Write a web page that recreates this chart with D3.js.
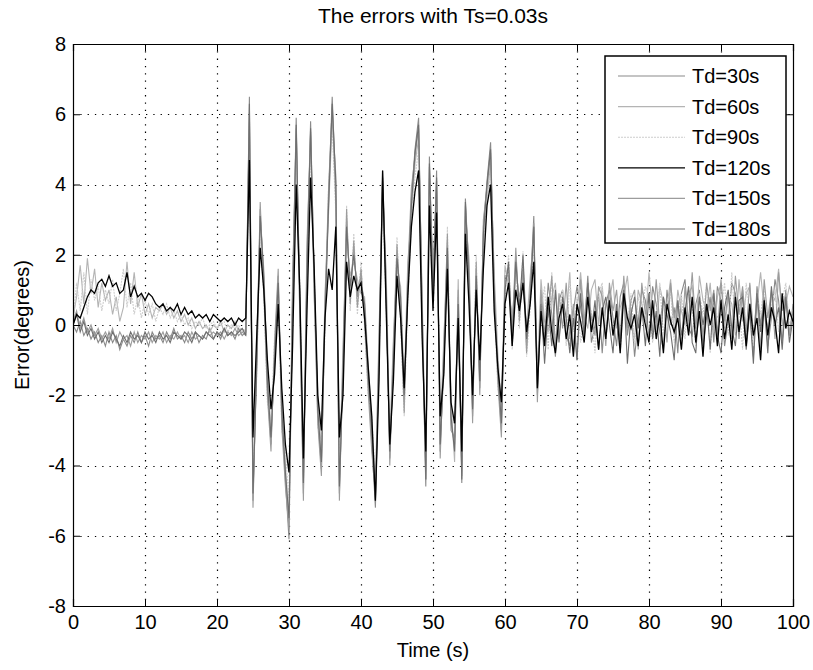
<!DOCTYPE html>
<html>
<head>
<meta charset="utf-8">
<script src="https://d3js.org/d3.v7.min.js"></script>
<style>
  html, body { margin: 0; padding: 0; background: #fff; }
  svg text { font-family: "Liberation Sans", Arial, Helvetica, sans-serif; fill: #000; }
</style>
</head>
<body>
<svg id="chart" width="813" height="670"></svg>
<script>
// Tracking error (degrees) sampled every 0.5 s from 0 to 100 s, one array per delay Td.
const sampleStep = 0.5;
const seriesNames = ["Td=30s", "Td=60s", "Td=90s", "Td=120s", "Td=150s", "Td=180s"];

const errTd30 = [
  0.0, -0.2, 0.1, -0.3, -0.1, -0.4, -0.2, -0.5, -0.3, -0.6,
  -0.2, -0.5, -0.3, -0.7, -0.4, -0.6, -0.3, -0.5, -0.2, -0.5,
  -0.3, -0.6, -0.2, -0.4, -0.3, -0.5, -0.2, -0.4, -0.1, -0.4,
  -0.3, -0.5, -0.2, -0.4, -0.2, -0.5, -0.3, -0.4, -0.1, -0.4,
  -0.2, -0.4, -0.1, -0.3, -0.2, -0.4, -0.1, -0.3, -0.2, 6.5,
  -5.0, -1.2, 3.3, 1.2, -1.8, -3.4, -0.8, 1.4, -2.6, -4.4,
  -6.1, 0.8, 5.9, 0.6, -4.8, 1.8, 5.8, 1.2, -2.6, -4.1,
  0.4, 3.6, 6.5, 3.9, -4.8, -1.2, 3.0, 0.9, 2.2, 0.8,
  1.4, 0.4, -1.6, -3.3, -5.2, -0.8, 4.4, 0.9, -3.8, -0.9,
  2.1, 0.6, -2.2, 1.2, 3.6, 5.0, 5.9, 0.2, -4.6, 4.8,
  1.0, 4.4, -3.6, -1.0, 2.4, -2.8, -3.4, 0.8, -4.5, 3.6,
  1.4, -2.6, 1.6, -1.8, 2.8, 4.1, 5.2, 1.0, -1.4, -3.0,
  1.2, 1.6, -0.4, 2.0, 0.3, 1.8, -0.6, 0.9, 3.1, -2.0,
  0.8, -0.4, 1.2, 0.3, -0.9, 0.7, 1.0, -0.3, -0.6, 0.4,
  1.1, 0.5, -0.2, 1.4, -0.5, 0.0, 0.9, -0.8, 0.6, 1.0,
  0.2, -0.6, 0.8, 1.2, -0.3, 0.5, -0.9, 0.1, 1.0, 0.7,
  -0.4, 1.1, 0.6, -0.2, -0.7, 1.0, 0.0, 0.5, -0.8, 0.9,
  1.3, -0.1, -0.3, 0.6, 1.0, -0.6, 0.2, 0.8, -0.5, 1.1,
  0.7, -0.6, 0.1, 1.2, 0.9, -0.4, 1.0, -0.5, 0.6, -0.9,
  1.1, 0.0, 0.8, -0.6, 0.2, 1.3, 0.7, -0.5, 1.0, -0.3,
  0.4
];

const errTd60 = [
  0.2, 0.8, 1.7, 0.6, 1.9, 0.9, 1.6, 0.5, 1.2, 0.7,
  1.0, 0.3, 0.8, 0.1, 0.5, 1.8, 0.6, 1.5, 0.5, 0.9,
  0.3, 0.6, 0.2, 0.5, 0.4, 0.6, 0.3, 0.5, 0.2, 0.4,
  0.1, 0.3, 0.0, 0.2, -0.1, 0.1, -0.1, 0.0, -0.2, 0.0,
  -0.1, 0.1, -0.2, 0.0, -0.1, 0.1, -0.2, -0.1, -0.2, 5.8,
  -4.6, -0.8, 3.0, 1.6, -1.4, -3.0, -1.2, 1.0, -2.2, -4.0,
  -5.6, 1.4, 5.2, 0.2, -4.2, 2.4, 5.4, 0.8, -2.0, -3.6,
  0.9, 3.2, 5.9, 4.3, -4.3, -0.6, 2.6, 1.4, 1.8, 1.3,
  0.9, 0.8, -1.1, -2.8, -4.6, -0.2, 3.8, 1.5, -3.2, -0.4,
  1.6, 1.1, -1.7, 1.8, 3.1, 4.6, 5.3, 0.8, -4.0, 4.2,
  1.6, 3.8, -3.0, -0.4, 2.0, -2.2, -3.9, 1.3, -3.9, 3.1,
  1.9, -2.0, 1.1, -1.2, 2.3, 3.6, 4.6, 1.5, -0.8, -2.4,
  1.7, 1.1, 0.2, 1.5, 0.8, 1.3, -0.1, 1.4, 2.5, -1.4,
  1.3, 0.1, -0.2, 0.8, 1.2, -0.4, 0.6, 0.2, 1.5, -0.7,
  0.4, 1.5, 0.3, -0.1, 1.0, 1.3, 0.0, 1.1, -0.3, 0.7,
  1.3, -0.1, 0.5, 0.8, 1.4, 0.2, -0.4, 1.0, 0.6, 0.1,
  1.5, 0.3, -0.2, 1.1, 0.6, 0.5, 1.3, -0.3, 1.0, 0.4,
  0.0, 0.9, 1.1, -0.1, 1.4, 0.7, 0.4, 1.2, -0.2, 0.8,
  1.2, -0.1, 0.8, 0.6, -0.3, 1.3, 0.1, 0.9, 1.1, -0.4,
  0.6, 1.5, 0.4, -0.1, 0.9, 0.7, 1.6, 0.0, 0.6, 1.1,
  0.8
];

const errTd90 = [
  0.0, 1.2, 0.4, 1.5, 0.3, 1.3, 0.7, 1.1, 0.4, 1.0,
  0.6, 1.3, 0.4, 0.9, 1.6, 0.5, 1.2, 0.3, 0.8, 0.2,
  0.7, 0.3, 0.6, 0.1, 0.5, 0.3, 0.6, 0.2, 0.4, 0.1,
  0.3, 0.0, 0.2, -0.1, 0.1, 0.0, 0.2, -0.1, 0.0, 0.1,
  -0.1, 0.0, 0.1, -0.2, 0.0, -0.1, 0.0, -0.2, -0.1, 5.2,
  -4.2, -1.6, 2.7, 0.8, -2.2, -2.8, -0.3, 0.9, -3.0, -3.6,
  -5.0, 0.2, 4.8, 1.1, -4.4, 1.2, 4.9, 1.7, -2.9, -3.4,
  -0.2, 4.0, 5.6, 3.2, -4.1, -1.7, 3.4, 0.4, 2.6, 0.3,
  1.8, -0.1, -2.0, -2.6, -4.4, -1.3, 3.6, 0.4, -3.3, -1.4,
  2.5, 0.1, -2.6, 0.7, 3.0, 4.2, 5.0, -0.4, -3.8, 4.0,
  0.5, 3.6, -3.1, -1.5, 2.8, -2.3, -2.9, 0.4, -3.7, 3.0,
  0.9, -2.2, 2.0, -1.5, 2.3, 3.5, 4.4, 0.5, -1.8, -2.5,
  0.8, 2.0, -0.7, 1.6, -0.1, 2.1, -0.9, 0.5, 2.4, -1.6,
  0.4, 1.1, -0.7, 1.5, -0.5, 0.3, 1.0, -0.6, 1.3, -0.2,
  0.8, -0.5, 0.2, 1.0, 0.3, -0.8, 0.9, 1.2, -0.4, 0.5,
  -0.2, 0.5, -0.8, 1.0, 0.1, 0.9, -0.6, 0.8, 0.4, 1.1,
  0.8, -0.5, 0.3, 1.2, -0.3, 0.6, 1.0, -0.5, 0.2, 0.9,
  -0.4, 1.0, 0.5, -0.6, 0.9, 0.3, 1.1, -0.8, 0.8, 0.2,
  0.4, 1.2, -0.3, 1.5, -0.2, 0.6, -0.7, 1.2, 0.3, -0.6,
  0.8, 0.3, 1.1, -0.3, 0.5, 1.0, -0.2, 0.7, 1.2, 0.0,
  0.2
];

const errTd120 = [
  0.0, 0.3, 0.2, 0.5, 0.8, 1.0, 0.9, 1.2, 1.3, 1.1,
  1.4, 1.1, 1.2, 0.9, 1.0, 1.5, 0.8, 1.1, 0.8, 0.9,
  0.7, 0.9, 0.8, 0.6, 0.5, 0.6, 0.4, 0.5, 0.4, 0.6,
  0.3, 0.5, 0.3, 0.4, 0.2, 0.3, 0.2, 0.3, 0.1, 0.3,
  0.2, 0.1, 0.2, 0.1, 0.2, 0.0, 0.2, 0.1, 0.2, 4.7,
  -3.2, -0.4, 2.2, 1.0, -1.0, -2.4, -1.4, 0.6, -1.8, -3.4,
  -4.2, -0.6, 4.0, 1.0, -3.8, 0.4, 4.2, 1.6, -2.0, -3.0,
  0.2, 1.6, 1.0, 2.8, -3.2, -2.0, 1.8, 0.8, 1.4, 1.0,
  1.2, 0.2, -1.2, -2.6, -5.0, -1.6, 4.4, 0.4, -3.4, -1.6,
  1.4, 0.2, -1.8, 0.8, 2.8, 3.8, 4.4, -0.4, -3.6, 3.4,
  0.4, 3.2, -2.6, -1.4, 1.6, -2.2, -2.8, 0.2, -3.6, 2.6,
  0.6, -2.0, 1.0, -1.0, 1.6, 3.4, 4.0, 0.4, -1.2, -2.2,
  0.6, 1.2, -0.6, 1.0, 0.4, 1.2, -0.2, 0.6, 1.8, -1.8,
  0.4, -0.6, 0.8, -0.2, -0.8, 0.2, 0.6, -0.4, 0.3, -0.9,
  0.6, 0.1, -0.5, 0.8, -0.2, 0.4, -0.7, 0.5, -0.4, 0.7,
  -0.3, 0.4, -0.8, 0.9, 0.2, -0.1, 0.3, -0.6, 0.5, 0.0,
  -0.5, 0.7, -0.4, 0.3, -0.8, 0.6, 0.1, -0.2, 0.2, -0.7,
  0.5, -0.3, 0.8, -0.5, 0.4, -0.9, 0.6, 0.0, 0.5, -0.6,
  0.7, -0.4, 0.3, -0.7, 0.8, -0.2, 0.5, -0.6, 0.6, -0.3,
  0.2, -1.0, 0.7, -0.3, 0.5, 0.1, -0.8, 0.9, -0.1, 0.4,
  0.1
];

const errTd150 = [
  0.1, 0.4, -0.1, 0.2, -0.2, 0.0, -0.3, -0.1, -0.4, -0.2,
  -0.4, -0.1, -0.5, -0.2, -0.4, -0.3, -0.6, -0.2, -0.5, -0.3,
  -0.4, -0.2, -0.5, -0.3, -0.4, -0.2, -0.5, -0.3, -0.4, -0.2,
  -0.4, -0.3, -0.5, -0.2, -0.4, -0.3, -0.4, -0.2, -0.3, -0.2,
  -0.3, -0.2, -0.4, -0.2, -0.3, -0.1, -0.3, -0.2, -0.3, 6.0,
  -5.2, -1.0, 3.5, 1.0, -2.0, -3.6, -0.5, 1.6, -2.9, -4.6,
  -5.8, 1.1, 5.6, 0.3, -5.0, 2.1, 5.5, 0.9, -2.8, -4.3,
  0.6, 3.9, 6.2, 3.5, -5.0, -1.0, 3.3, 0.6, 2.4, 0.5,
  1.6, 0.1, -1.9, -3.6, -4.9, -0.5, 4.1, 1.2, -4.0, -0.6,
  2.3, 0.3, -2.5, 1.5, 3.9, 4.8, 5.6, 0.0, -4.4, 4.5,
  1.3, 4.1, -3.8, -0.7, 2.6, -3.0, -3.2, 1.0, -4.3, 3.4,
  1.6, -2.8, 1.8, -2.0, 3.0, 3.9, 4.9, 1.2, -1.6, -3.2,
  1.4, 1.4, -0.2, 2.2, 0.1, 1.6, -0.8, 1.1, 2.9, -2.2,
  1.0, -0.2, 0.3, 1.4, -0.7, 0.9, -0.1, 1.2, -0.4, 0.6,
  -1.0, 1.3, 0.0, 1.2, 0.2, -0.3, 1.1, 0.8, -0.6, 1.2,
  0.4, 1.0, -0.4, 1.4, -0.1, 0.7, 1.0, -0.7, 1.2, 0.3,
  0.9, -0.2, 1.3, 0.0, 0.8, -0.5, 1.2, 0.2, 0.7, -0.6,
  1.1, 0.1, 1.5, -0.1, 0.8, -0.4, 1.2, 0.4, 1.0, -0.3,
  1.3, 0.1, 0.9, -0.4, 1.4, 0.3, 1.1, -0.2, 1.2, -0.3,
  0.8, -0.7, 1.3, 0.2, 1.0, -0.4, 1.5, 0.4, 0.9, -0.3,
  0.6
];

const errTd180 = [
  0.0, 0.3, -0.2, 0.1, -0.3, -0.1, -0.4, -0.2, -0.5, -0.3,
  -0.5, -0.2, -0.4, -0.6, -0.3, -0.5, -0.2, -0.4, -0.3, -0.5,
  -0.2, -0.4, -0.3, -0.5, -0.2, -0.4, -0.3, -0.5, -0.2, -0.3,
  -0.4, -0.2, -0.3, -0.5, -0.2, -0.3, -0.4, -0.2, -0.3, -0.4,
  -0.2, -0.3, -0.1, -0.3, -0.2, -0.3, -0.2, -0.1, -0.3, 6.3,
  -4.8, -1.4, 3.1, 1.4, -1.6, -3.2, -1.0, 1.2, -2.4, -4.2,
  -5.5, 0.5, 5.7, 0.8, -4.5, 1.5, 5.6, 1.4, -2.4, -3.9,
  0.2, 3.4, 6.3, 4.1, -4.6, -1.4, 2.8, 1.1, 2.0, 1.0,
  1.2, 0.6, -1.4, -3.0, -5.0, -1.0, 4.2, 0.7, -3.6, -1.1,
  1.9, 0.8, -2.0, 1.0, 3.4, 4.9, 5.7, 0.4, -4.4, 4.6,
  0.8, 4.2, -3.4, -1.2, 2.2, -2.6, -3.6, 0.6, -4.4, 3.5,
  1.2, -2.4, 1.4, -1.6, 2.6, 4.0, 5.0, 0.8, -1.2, -2.8,
  1.0, 1.8, -0.6, 1.8, 0.5, 2.0, -0.4, 0.7, 2.8, -1.8,
  0.6, -1.1, 0.5, -0.6, 1.0, -0.5, 0.8, 0.2, -0.8, 0.2,
  -1.0, 0.9, -0.4, 1.2, -0.2, 0.7, -0.7, 0.4, 0.8, 0.0,
  -0.8, 0.6, -0.5, 1.0, -1.1, 0.3, 0.8, -0.1, 0.5, -0.6,
  0.9, -0.4, 0.4, -0.9, 0.8, 0.3, -0.2, -1.0, 0.7, -0.3,
  0.4, 1.1, -0.5, -0.8, 0.8, 0.0, 0.6, -0.7, 0.9, -0.3,
  -0.8, 0.5, 1.0, -0.1, -0.6, 0.7, 0.8, -0.7, 0.4, -1.1,
  0.9, -0.2, 0.6, -0.8, 1.1, 0.0, 0.5, -0.7, 0.8, -0.5,
  0.2
];

const xTicks = [0, 10, 20, 30, 40, 50, 60, 70, 80, 90, 100];
const yTicks = [-8, -6, -4, -2, 0, 2, 4, 6, 8];

// line appearance per series (grey shades as in a monochrome print)
const seriesStyles = [
  { color: "#8a8a8a", dash: null },
  { color: "#b4b4b4", dash: null },
  { color: "#cdcdcd", dash: "2,1" },
  { color: "#000000", dash: null },
  { color: "#9c9c9c", dash: null },
  { color: "#6e6e6e", dash: null }
];

const seriesData = [errTd30, errTd60, errTd90, errTd120, errTd150, errTd180];

const svg = d3.select("#chart");
const W = 813, H = 670;
const margin = { left: 73, right: 20, top: 44, bottom: 64 };
const plotW = W - margin.left - margin.right;
const plotH = H - margin.top - margin.bottom;

const x = d3.scaleLinear().domain([0, 100]).range([margin.left, margin.left + plotW]);
const y = d3.scaleLinear().domain([-8, 8]).range([margin.top + plotH, margin.top]);

svg.append("rect").attr("width", W).attr("height", H).attr("fill", "#fff");

// dotted grid
const grid = svg.append("g").attr("stroke", "#000").attr("stroke-width", 1.2)
  .attr("stroke-dasharray", "1.3,6");
grid.selectAll("line.v").data(xTicks.slice(1, -1)).join("line")
  .attr("x1", d => Math.round(x(d)) + 0.5).attr("x2", d => Math.round(x(d)) + 0.5)
  .attr("y1", y(8)).attr("y2", y(-8));
grid.selectAll("line.h").data(yTicks.slice(1, -1)).join("line")
  .attr("y1", d => Math.round(y(d)) + 0.5).attr("y2", d => Math.round(y(d)) + 0.5)
  .attr("x1", x(0)).attr("x2", x(100));

// series lines
svg.append("clipPath").attr("id", "plotclip").append("rect")
  .attr("x", x(0)).attr("y", y(8)).attr("width", plotW).attr("height", plotH);

const line = d3.line()
  .x((d, i) => x(i * sampleStep))
  .y(d => y(d));

const drawOrder = [0, 1, 2, 4, 5, 3];
const lines = svg.append("g").attr("clip-path", "url(#plotclip)");
drawOrder.forEach(k => {
  lines.append("path")
    .datum(seriesData[k])
    .attr("d", line)
    .attr("fill", "none")
    .attr("stroke", seriesStyles[k].color)
    .attr("stroke-width", k === 3 ? 1.3 : 1.1)
    .attr("stroke-dasharray", seriesStyles[k].dash)
    .attr("stroke-linejoin", "miter");
});

// axes with inward ticks on all four sides (boxed frame)
const tickLen = 7;
const fontSize = 20;
const plainNum = d => String(d);
const axB = d3.axisBottom(x).tickValues(xTicks).tickSize(-tickLen).tickPadding(9).tickFormat(plainNum);
const axT = d3.axisTop(x).tickValues(xTicks).tickSize(-tickLen).tickFormat("");
const axL = d3.axisLeft(y).tickValues(yTicks).tickSize(-tickLen).tickPadding(7).tickFormat(plainNum);
const axR = d3.axisRight(y).tickValues(yTicks).tickSize(-tickLen).tickFormat("");

function styleAxis(g) {
  g.select(".domain").attr("stroke", "#000").attr("stroke-width", 1.2);
  g.selectAll(".tick line").attr("stroke", "#000").attr("stroke-width", 1);
  g.selectAll(".tick text").attr("font-size", fontSize)
    .attr("font-family", "'Liberation Sans', Arial, sans-serif").attr("fill", "#000");
}

svg.append("g").attr("transform", `translate(0,${y(-8)})`).call(axB).call(styleAxis);
svg.append("g").attr("transform", `translate(0,${y(8)})`).call(axT).call(styleAxis);
svg.append("g").attr("transform", `translate(${x(0)},0)`).call(axL).call(styleAxis);
svg.append("g").attr("transform", `translate(${x(100)},0)`).call(axR).call(styleAxis);

// title and axis labels
svg.append("text")
  .attr("x", (x(0) + x(100)) / 2).attr("y", 23)
  .attr("text-anchor", "middle").attr("font-size", 21)
  .text("The errors with Ts=0.03s");

svg.append("text")
  .attr("x", (x(0) + x(100)) / 2).attr("y", 657)
  .attr("text-anchor", "middle").attr("font-size", fontSize)
  .text("Time (s)");

svg.append("text")
  .attr("transform", `translate(29,${(y(8) + y(-8)) / 2}) rotate(-90)`)
  .attr("text-anchor", "middle").attr("font-size", fontSize)
  .text("Error(degrees)");

// legend
const legX = 605, legY = 56, legW = 181, legH = 187;
const legend = svg.append("g");
legend.append("rect")
  .attr("x", legX).attr("y", legY).attr("width", legW).attr("height", legH)
  .attr("fill", "#fff").attr("stroke", "#000").attr("stroke-width", 1.5);
const rowY = d3.scalePoint().domain(seriesNames).range([legY + 20, legY + legH - 14]);
seriesNames.forEach((name, k) => {
  const yy = rowY(name);
  legend.append("line")
    .attr("x1", legX + 13).attr("x2", legX + 80)
    .attr("y1", yy).attr("y2", yy)
    .attr("stroke", seriesStyles[k].color)
    .attr("stroke-width", k === 3 ? 1.3 : 1.1)
    .attr("stroke-dasharray", seriesStyles[k].dash);
  legend.append("text")
    .attr("x", legX + 87).attr("y", yy + 7)
    .attr("font-size", fontSize)
    .text(name);
});
</script>
</body>
</html>
